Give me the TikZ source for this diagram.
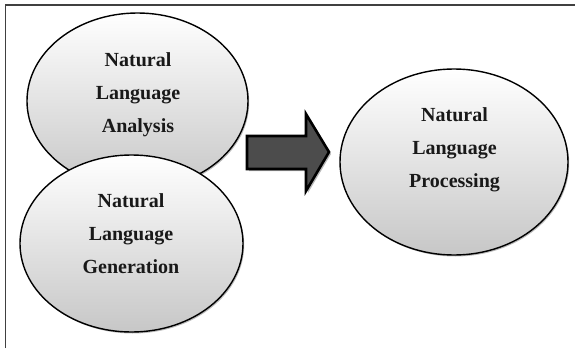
\documentclass[tikz,border=0pt]{standalone}
\usepackage{fontspec}
\setmainfont{Liberation Serif}
\usetikzlibrary{shapes.geometric,shadows}
\tikzset{
  bubble/.style={ellipse, draw=black, line width=1.4pt, top color=white, bottom color=black!22,
    shading angle=0, drop shadow={shadow xshift=1.2pt, shadow yshift=-1.5pt, fill=black!45, opacity=0.6}, inner sep=0pt},
  label text/.style={align=center, font=\fontsize{20}{33}\selectfont\bfseries, text=black!90},
  frame line/.style={draw=black!75, line width=1.6pt},
  big arrow/.style={draw=black, line width=2.6pt, fill=black!70, line join=miter,
    drop shadow={shadow xshift=2pt, shadow yshift=-2pt, fill=black!40, opacity=0.7}}
}
\begin{document}
\begin{tikzpicture}[x=1pt,y=-1pt]
\useasboundingbox (0,0) rectangle (575,348);
\coordinate (fbl) at (5.5,348);
\coordinate (ftl) at (5.5,5);
\coordinate (ftr) at (575,5);
\draw[frame line] (fbl) -- (ftl) -- (ftr);
% Analysis
\node[bubble, minimum width=221pt, minimum height=176pt] (ana) at (137.5,101) {};
\node[label text] (anat) at (138,95) {Natural\\Language\\Analysis};
% Generation
\node[bubble, minimum width=223pt, minimum height=177pt] (gen) at (131.5,243.5) {};
\node[label text] (gent) at (131,233.5) {Natural\\Language\\Generation};
% Processing
\node[bubble, minimum width=228pt, minimum height=186pt] (proc) at (454,162) {};
\node[label text] (proct) at (454.5,150) {Natural\\Language\\Processing};
% Arrow
\coordinate (a1) at (247,136);
\coordinate (a2) at (306,136);
\coordinate (a3) at (306,114);
\coordinate (a4) at (329,152);
\coordinate (a5) at (306,191);
\coordinate (a6) at (306,169);
\coordinate (a7) at (247,169);
\draw[big arrow] (a1) -- (a2) -- (a3) -- (a4) -- (a5) -- (a6) -- (a7) -- cycle;
\end{tikzpicture}
\end{document}
